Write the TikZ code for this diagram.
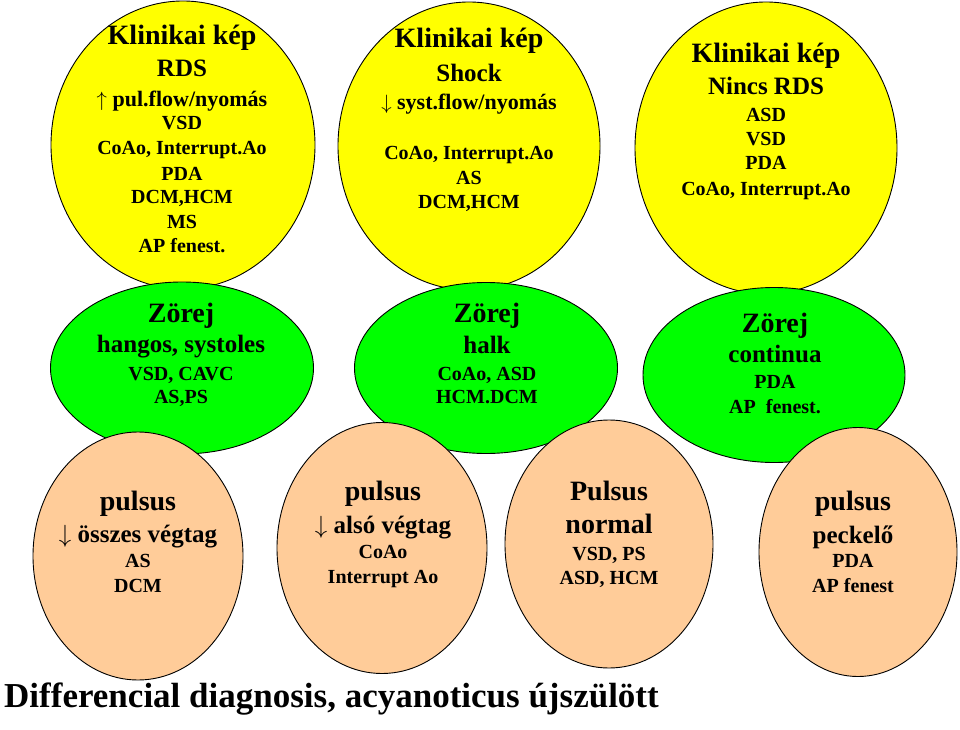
\documentclass[tikz,border=0pt]{standalone}
\usepackage{fontspec}
\setmainfont{Liberation Serif}
\usetikzlibrary{shapes.geometric}
\definecolor{yel}{HTML}{FFFF00}
\definecolor{grn}{HTML}{00FF00}
\definecolor{peach}{HTML}{FFCC99}
\newcommand{\fs}[1]{\fontsize{#1}{#1}\selectfont\bfseries}
\newcommand{\upar}{$\uparrow$}
\newcommand{\dnar}{$\downarrow$}
\begin{document}
\begin{tikzpicture}[x=1pt,y=-1pt,
  blob/.style={ellipse,draw=black,line width=0.9pt,inner sep=0pt},
  ybl/.style={blob,fill=yel},
  gbl/.style={blob,fill=grn},
  obl/.style={blob,fill=peach},
  t/.style={anchor=base,inner sep=0pt,font=\fs{#1}},
  t/.default=20]
\useasboundingbox (0,0) rectangle (960,730);
% yellow
\node[ybl,minimum width=264pt,minimum height=288pt] (y1) at (183,145) {};
\node[ybl,minimum width=262pt,minimum height=288pt] (y2) at (469,146) {};
\node[ybl,minimum width=262pt,minimum height=292pt] (y3) at (766,148) {};
% green
\node[gbl,minimum width=263pt,minimum height=172pt] (g1) at (182,368) {};
\node[gbl,minimum width=263pt,minimum height=171pt] (g2) at (486,368) {};
\node[gbl,minimum width=262pt,minimum height=175pt] (g3) at (774,375) {};
% orange
\node[obl,minimum width=210pt,minimum height=248pt] (o1) at (138,556) {};
\node[obl,minimum width=210pt,minimum height=251pt] (o2) at (382,548) {};
\node[obl,minimum width=208pt,minimum height=248pt] (o3) at (609,544) {};
\node[obl,minimum width=198pt,minimum height=249pt] (o4) at (858,552) {};
% yellow 1 text
\node[t=28] (y1a) at (182,45) {Klinikai kép};
\node[t=25] (y1b) at (182,77) {RDS};
\node[t=22] (y1c) at (182,107) {\upar\ pul.flow/nyomás};
\node[t] (y1d) at (182,130) {VSD};
\node[t] (y1e) at (182,155) {CoAo, Interrupt.Ao};
\node[t] (y1f) at (182,180) {PDA};
\node[t] (y1g) at (182,203) {DCM,HCM};
\node[t] (y1h) at (182,228) {MS};
\node[t] (y1i) at (182,252) {AP fenest.};
% yellow 2 text
\node[t=28] (y2a) at (469,48) {Klinikai kép};
\node[t=25] (y2b) at (469,82) {Shock};
\node[t=22] (y2c) at (469,110) {\dnar\ syst.flow/nyomás};
\node[t] (y2d) at (469,160) {CoAo, Interrupt.Ao};
\node[t] (y2e) at (469,185) {AS};
\node[t] (y2f) at (469,208) {DCM,HCM};
% yellow 3 text
\node[t=28] (y3a) at (766,63) {Klinikai kép};
\node[t=25] (y3b) at (766,95) {Nincs RDS};
\node[t] (y3c) at (766,122) {ASD};
\node[t] (y3d) at (766,146) {VSD};
\node[t] (y3e) at (766,170) {PDA};
\node[t] (y3f) at (766,195) {CoAo, Interrupt.Ao};
% green 1 text
\node[t=28] (g1a) at (181,322) {Zörej};
\node[t=25] (g1b) at (181,352) {hangos, systoles};
\node[t] (g1c) at (181,380) {VSD, CAVC};
\node[t] (g1d) at (181,403) {AS,PS};
% green 2 text
\node[t=28] (g2a) at (487,322) {Zörej};
\node[t=25] (g2b) at (487,353) {halk};
\node[t] (g2c) at (487,380) {CoAo, ASD};
\node[t] (g2d) at (487,403) {HCM.DCM};
% green 3 text
\node[t=28] (g3a) at (775,332) {Zörej};
\node[t=25] (g3b) at (775,362) {continua};
\node[t] (g3c) at (775,388) {PDA};
\node[t] (g3d) at (775,413) {AP\ \ fenest.};
% orange 1 text
\node[t=28] (o1a) at (138,510) {pulsus};
\node[t=25] (o1b) at (138,542) {\dnar\ összes végtag};
\node[t] (o1c) at (138,567) {AS};
\node[t] (o1d) at (138,592) {DCM};
% orange 2 text
\node[t=28] (o2a) at (383,500) {pulsus};
\node[t=25] (o2b) at (383,533) {\dnar\ alsó végtag};
\node[t] (o2c) at (383,558) {CoAo};
\node[t] (o2d) at (383,583) {Interrupt Ao};
% orange 3 text
\node[t=28] (o3a) at (609,500) {Pulsus};
\node[t=28] (o3b) at (609,533) {normal};
\node[t] (o3c) at (609,560) {VSD, PS};
\node[t] (o3d) at (609,584) {ASD, HCM};
% orange 4 text
\node[t=28] (o4a) at (853,510) {pulsus};
\node[t=25] (o4b) at (853,543) {peckelő};
\node[t] (o4c) at (853,567) {PDA};
\node[t] (o4d) at (853,592) {AP fenest};
% title
\node[anchor=base west,inner sep=0pt,font=\fs{35}] (title) at (4,707) {Differencial diagnosis, acyanoticus újszülött};
\end{tikzpicture}
\end{document}
